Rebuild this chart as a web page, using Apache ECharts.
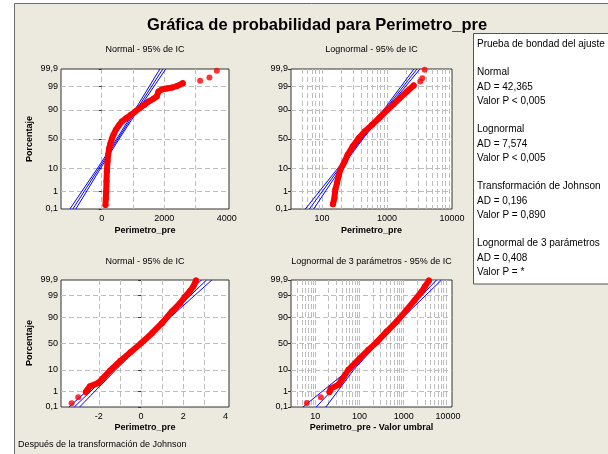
<!DOCTYPE html>
<html><head><meta charset="utf-8">
<script src="https://cdn.jsdelivr.net/npm/echarts@6/dist/echarts.min.js"></script>
<style>html,body{margin:0;padding:0;background:#fff}#c{width:608px;height:454px}</style>
</head><body><div id="c"></div>
<script>
// ---------- data ----------
const probTicks  = [0.1, 1, 10, 50, 90, 99, 99.9];
const probLabels = ['0,1', '1', '10', '50', '90', '99', '99,9'];
const fitPct = [0.1, 10, 50, 90, 99.9];

// Panel 1: Normal
const p1ChainPct = [0.18,0.45,1.0,3.0,7.6,16,24.2,34.3,42.7,50.3,57.3,65.7,72.4,78,82.1,85.7,88.7,91.3,93.4,95.1,96.2,97.0,98.2,98.56,98.7,98.85,99.05,99.31];
const p1ChainVal = [122,133,144,154,165,186,208,240,282,325,378,453,548,644,783,932,1070,1209,1358,1496,1656,1763,1816,1922,2082,2263,2423,2593];
const p1OutPct = [99.49, 99.67, 99.87];
const p1OutVal = [3147, 3445, 3680];
const p1Fit = [-921, -78, 517, 1112, 1954];
const p1Lo  = [-1016, -128, 477, 1062, 1859];
const p1Hi  = [-826, -28, 557, 1162, 2049];
const p1Grid = [-1000, 0, 1000, 2000, 3000, 4000];
const p1Labels = [0, 2000, 4000];

// Panel 2: Lognormal
const p2ChainPct = [0.2,0.45,1.24,2.6,5.7,8.7,16,24.2,37,51.4,62.9,73.4,82.9,89.8,93.8,96.4,98.2,99.09];
const p2ChainVal = [147,155,160,170,182,191,223,248,296,366,453,587,770,999,1264,1563,2028,2570];
const p2OutPct = [99.44, 99.63, 99.89];
const p2OutVal = [3250, 3491, 3794];
const p2Fit = [63.8, 186, 412, 924, 2891];
const p2Lo  = [55.3, 176, 401, 882, 2600];
const p2Hi  = [74.3, 196, 424, 967, 3214];
const p2Labels = [100, 1000, 10000];

// Panel 3: Normal after Johnson transformation
const p3ChainPct = [0.91,1.22,1.84,2.7,4.3,9.2,20,33.7,50.6,69.2,83.8,94,97.5,98.87,99.47,99.72,99.89];
const p3ChainVal = [-2.615,-2.537,-2.427,-2.036,-1.832,-1.473,-0.972,-0.502,0,0.515,0.985,1.454,1.845,2.08,2.315,2.471,2.596];
const p3OutPct = [0.18, 0.44];
const p3OutVal = [-3.288, -2.975];
const p3Fit = [-3.163, -1.33, -0.033, 1.264, 3.097];
const p3Lo  = [-3.41, -1.46, -0.12, 1.13, 2.85];
const p3Hi  = [-2.91, -1.20, 0.06, 1.39, 3.35];
const p3Grid = [-3, -2, -1, 0, 1, 2, 3, 4];
const p3Labels = [-2, 0, 2, 4];

// Panel 4: 3-parameter lognormal
const p4ChainPct = [0.91,1.39,2.24,3.9,10,23.8,37.9,52.6,71.9,85.7,94.9,98.3,99.42,99.72,99.89];
const p4ChainVal = [21.0,22.5,33.5,39.8,56.3,103,159,245,411,690,1160,1787,2527,3000,3694];
const p4OutPct = [0.19, 0.44];
const p4OutVal = [6.49, 13.4];
const p4Fit = [10.5, 65.8, 240, 879, 5495];
const p4Lo  = [5.28, 57.5, 224, 794, 4236];
const p4Hi  = [17.4, 74, 257, 977, 7129];
const p4Labels = [10, 100, 1000, 10000];

const gofLines = ['Prueba de bondad del ajuste', '', 'Normal', 'AD = 42,365', 'Valor P < 0,005', '',
  'Lognormal', 'AD = 7,574', 'Valor P < 0,005', '', 'Transformación de Johnson', 'AD = 0,196', 'Valor P = 0,890', '',
  'Lognormal de 3 parámetros', 'AD = 0,408', 'Valor P = *'];

// ---------- helpers ----------
function probit(p) {
  const a = [-3.969683028665376e+01, 2.209460984245205e+02, -2.759285104469687e+02, 1.383577518672690e+02, -3.066479806614716e+01, 2.506628277459239e+00];
  const b = [-5.447609879822406e+01, 1.615858368580409e+02, -1.556989798598866e+02, 6.680131188771972e+01, -1.328068155922803e+01];
  const c = [-7.784894002430293e-03, -3.223964580411365e-01, -2.400758277161838e+00, -2.549671348915638e+00, 4.374664141464968e+00, 2.938163982698783e+00];
  const d = [7.784695709041462e-03, 3.224671290700398e-01, 2.445134137142996e+00, 3.754408661907416e+00];
  const pl = 0.02425;
  let q, r;
  if (p < pl) {
    q = Math.sqrt(-2 * Math.log(p));
    return (((((c[0]*q+c[1])*q+c[2])*q+c[3])*q+c[4])*q+c[5]) / ((((d[0]*q+d[1])*q+d[2])*q+d[3])*q+1);
  } else if (p <= 1 - pl) {
    q = p - 0.5; r = q * q;
    return (((((a[0]*r+a[1])*r+a[2])*r+a[3])*r+a[4])*r+a[5])*q / (((((b[0]*r+b[1])*r+b[2])*r+b[3])*r+b[4])*r+1);
  } else {
    q = Math.sqrt(-2 * Math.log(1 - p));
    return -(((((c[0]*q+c[1])*q+c[2])*q+c[3])*q+c[4])*q+c[5]) / ((((d[0]*q+d[1])*q+d[2])*q+d[3])*q+1);
  }
}
const Z = pct => probit(pct / 100);
const zTicks = probTicks.map(Z);
function probLabel(v) {
  let best = 0;
  zTicks.forEach((t, k) => { if (Math.abs(t - v) < Math.abs(zTicks[best] - v)) best = k; });
  return probLabels[best];
}
function logGrid(lo, hi) { // gridline values k*10^d inside [lo, hi]
  const out = [];
  for (let d = -1; d <= 5; d++) for (let k = 1; k <= 9; k++) {
    const v = k * Math.pow(10, d);
    if (v >= lo && v <= hi) out.push(v);
  }
  return out;
}
const pairs = (pcts, vals) => pcts.map((q, k) => [vals[k], Z(q)]);

const FONT = 'Liberation Sans';
const panels = [
  { grid: {left: 61, top: 69, width: 168, height: 140}, type: 'value', min: -1300, max: 4070, gridVals: p1Grid, labels: p1Labels,
    cp: p1ChainPct, cv: p1ChainVal, op: p1OutPct, ov: p1OutVal, fit: p1Fit, lo: p1Lo, hi: p1Hi },
  { grid: {left: 291, top: 69, width: 161, height: 140}, type: 'log', min: 33.3, max: 10000, gridVals: logGrid(33.3, 10000), labels: p2Labels,
    cp: p2ChainPct, cv: p2ChainVal, op: p2OutPct, ov: p2OutVal, fit: p2Fit, lo: p2Lo, hi: p2Hi },
  { grid: {left: 61, top: 280, width: 168, height: 127}, type: 'value', min: -3.79, max: 4.16, gridVals: p3Grid, labels: p3Labels,
    cp: p3ChainPct, cv: p3ChainVal, op: p3OutPct, ov: p3OutVal, fit: p3Fit, lo: p3Lo, hi: p3Hi },
  { grid: {left: 291, top: 280, width: 161, height: 127}, type: 'log', min: 2.84, max: 12300, gridVals: logGrid(2.84, 12300), labels: p4Labels,
    cp: p4ChainPct, cv: p4ChainVal, op: p4OutPct, ov: p4OutVal, fit: p4Fit, lo: p4Lo, hi: p4Hi }
];

const dash = {color: '#bdbdbd', type: [5, 3], width: 1};
const grids = [], xAxes = [], yAxes = [], series = [];
panels.forEach((p, i) => {
  grids.push(Object.assign({show: true, backgroundColor: '#ffffff', borderColor: '#333333', borderWidth: 1, outerBoundsMode: 'none'}, p.grid));
  const xa = {
    gridIndex: i, type: p.type, min: p.min, max: p.max,
    axisLine: {show: false},
    axisTick: {show: false, customValues: p.gridVals},
    axisLabel: {customValues: p.labels, color: '#000', fontSize: 9, fontFamily: FONT, margin: 5, formatter: v => String(Math.round(v))},
    splitLine: {show: true, showMinLine: false, showMaxLine: false, lineStyle: dash}
  };
  if (p.type === 'log') xa.logBase = 10;
  xAxes.push(xa);
  yAxes.push({
    gridIndex: i, type: 'value', min: Z(0.1), max: Z(99.9),
    axisLine: {show: false},
    axisTick: {show: true, length: 3, customValues: zTicks, lineStyle: {color: '#333'}},
    axisLabel: {customValues: zTicks, formatter: probLabel, color: '#000', fontSize: 9, fontFamily: FONT, margin: 3},
    splitLine: {show: true, showMinLine: false, showMaxLine: false, lineStyle: dash}
  });
  [p.lo, p.fit, p.hi].forEach(arr => series.push({
    type: 'line', xAxisIndex: i, yAxisIndex: i, data: pairs(fitPct, arr), symbol: 'none',
    lineStyle: {color: '#0000ff', width: 1}, silent: true, z: 2, animation: false
  }));
  series.push({
    type: 'line', xAxisIndex: i, yAxisIndex: i, data: pairs(p.cp, p.cv),
    symbol: 'circle', symbolSize: 6, showSymbol: true, itemStyle: {color: '#ff0000'},
    lineStyle: {color: '#ff0000', width: 6, cap: 'round', join: 'round'}, silent: true, z: 3, animation: false
  });
  series.push({
    type: 'scatter', xAxisIndex: i, yAxisIndex: i, data: pairs(p.op, p.ov),
    symbol: 'circle', symbolSize: 6, itemStyle: {color: '#ff0000'}, silent: true, z: 3, animation: false
  });
});

const txt = (x, y, s, o) => Object.assign({type: 'text', x: x, y: y, z: 10,
  style: Object.assign({text: s, fill: '#000', font: '9px "' + FONT + '"', textAlign: 'center', textVerticalAlign: 'middle'}, o || {})});
const graphics = [
  {type: 'rect', shape: {x: 0, y: 0, width: 608, height: 3}, style: {fill: '#ffffff'}, z: 5},
  {type: 'rect', shape: {x: 0, y: 0, width: 14, height: 454}, style: {fill: '#ffffff'}, z: 5},
  {type: 'polyline', shape: {points: [[14.5, 454], [14.5, 3.5], [608, 3.5]]}, style: {stroke: '#6d6d6d', lineWidth: 1, fill: null}, z: 6},
  {type: 'rect', shape: {x: 473.5, y: 33.5, width: 200, height: 250.5}, style: {fill: '#ffffff', stroke: '#555555', lineWidth: 1}, z: 6},
  txt(317, 25, 'Gráfica de probabilidad para Perimetro_pre', {font: 'bold 16.5px "' + FONT + '"'}),
  txt(145, 50, 'Normal - 95% de IC'),
  txt(371.5, 50, 'Lognormal - 95% de IC'),
  txt(145, 262, 'Normal - 95% de IC'),
  txt(371.5, 262, 'Lognormal de 3 parámetros - 95% de IC'),
  txt(145, 231, 'Perimetro_pre', {font: 'bold 9px "' + FONT + '"'}),
  txt(371.5, 231, 'Perimetro_pre', {font: 'bold 9px "' + FONT + '"'}),
  txt(145, 428, 'Perimetro_pre', {font: 'bold 9px "' + FONT + '"'}),
  txt(371.5, 428, 'Perimetro_pre - Valor umbral', {font: 'bold 9px "' + FONT + '"'}),
  txt(18, 445, 'Después de la transformación de Johnson', {textAlign: 'left'}),
  Object.assign(txt(30, 139, 'Porcentaje', {font: 'bold 9px "' + FONT + '"'}), {rotation: Math.PI / 2}),
  Object.assign(txt(30, 343, 'Porcentaje', {font: 'bold 9px "' + FONT + '"'}), {rotation: Math.PI / 2})
];
gofLines.forEach((s, k) => { if (s) graphics.push(txt(477, 44 + k * 14.25, s, {textAlign: 'left', font: '10px "' + FONT + '"'})); });

const chart = echarts.init(document.getElementById('c'), null, {renderer: 'canvas'});
chart.setOption({
  backgroundColor: '#ECE9DF',
  animation: false,
  grid: grids, xAxis: xAxes, yAxis: yAxes, series: series,
  graphic: {elements: graphics}
});
</script></body></html>
